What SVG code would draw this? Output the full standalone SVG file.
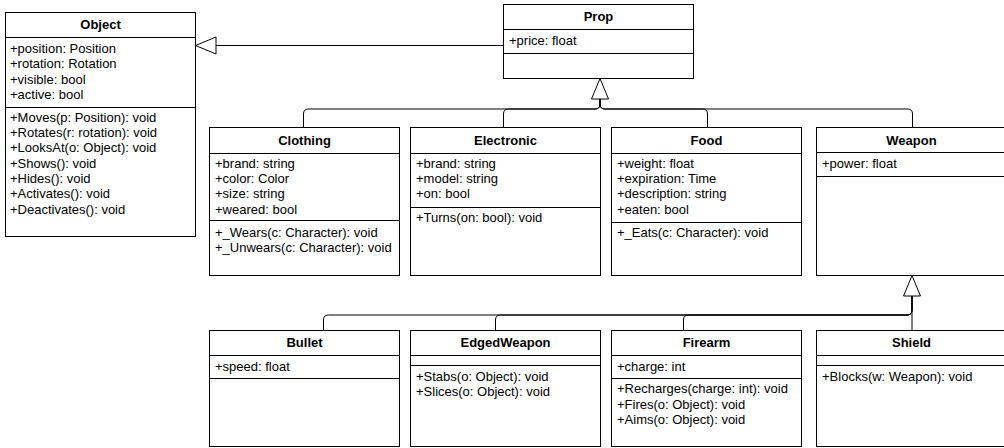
<svg xmlns="http://www.w3.org/2000/svg" width="1004" height="448" viewBox="0 0 1004 448">
<style>
.box{fill:#fff;stroke:#000;stroke-width:1}
.sep{stroke:#000;stroke-width:1}
.t{font-family:"Liberation Sans",Arial,sans-serif;font-size:13px;fill:#000}
.h{font-family:"Liberation Sans",Arial,sans-serif;font-size:13px;font-weight:bold;fill:#000;text-anchor:middle}
.edge{fill:none;stroke:#000;stroke-width:1}
.tri{fill:#fff;stroke:#000;stroke-width:1}
</style>
<rect width="1004" height="448" fill="#fff"/>
<g id="connectors">
  <path class="edge" d="M503.5,45.5 H216"/>
  <polygon class="tri" points="195.5,45.5 216,37 216,54"/>
  <path class="edge" d="M303.5,127 V114 Q303.5,109 308.5,109 H595 Q600,109 600,104 V99"/>
  <path class="edge" d="M503.5,127 V114 Q503.5,109 508.5,109 H595 Q600,109 600,104 V99"/>
  <path class="edge" d="M707.5,127 V114 Q707.5,109 702.5,109 H605 Q600,109 600,104 V99"/>
  <path class="edge" d="M912.5,127 V114 Q912.5,109 907.5,109 H605 Q600,109 600,104 V99"/>
  <polygon class="tri" points="600,78.5 591.5,99 608.5,99"/>
  <path class="edge" d="M323.5,330 V320 Q323.5,315 328.5,315 H907 Q912,315 912,310 V296"/>
  <path class="edge" d="M495.5,330 V320 Q495.5,315 500.5,315 H907 Q912,315 912,310 V296"/>
  <path class="edge" d="M683.5,330 V320 Q683.5,315 688.5,315 H907 Q912,315 912,310 V296"/>
  <path class="edge" d="M912,330 V296"/>
  <polygon class="tri" points="912,275.5 903.5,296 920.5,296"/>
</g>
<g id="Object">
  <rect class="box" x="5.5" y="12.5" width="190" height="224"/>
  <line class="sep" x1="5.5" y1="37.5" x2="195.5" y2="37.5"/>
  <line class="sep" x1="5.5" y1="107.5" x2="195.5" y2="107.5"/>
  <text class="h" x="100.5" y="29">Object</text>
  <text class="t" x="10" y="53">+position: Position</text>
  <text class="t" x="10" y="68">+rotation: Rotation</text>
  <text class="t" x="10" y="84">+visible: bool</text>
  <text class="t" x="10" y="99">+active: bool</text>
  <text class="t" x="10" y="122">+Moves(p: Position): void</text>
  <text class="t" x="10" y="137">+Rotates(r: rotation): void</text>
  <text class="t" x="10" y="152">+LooksAt(o: Object): void</text>
  <text class="t" x="10" y="168">+Shows(): void</text>
  <text class="t" x="10" y="183">+Hides(): void</text>
  <text class="t" x="10" y="198">+Activates(): void</text>
  <text class="t" x="10" y="214">+Deactivates(): void</text>
</g>
<g id="Prop">
  <rect class="box" x="503.5" y="4.5" width="190" height="74"/>
  <line class="sep" x1="503.5" y1="29.5" x2="693.5" y2="29.5"/>
  <line class="sep" x1="503.5" y1="53.5" x2="693.5" y2="53.5"/>
  <text class="h" x="598.5" y="21">Prop</text>
  <text class="t" x="509" y="45">+price: float</text>
</g>
<g id="Clothing">
  <rect class="box" x="209.5" y="127.5" width="190" height="148"/>
  <line class="sep" x1="209.5" y1="153.5" x2="399.5" y2="153.5"/>
  <line class="sep" x1="209.5" y1="220.5" x2="399.5" y2="220.5"/>
  <text class="h" x="304.5" y="144.5">Clothing</text>
  <text class="t" x="215" y="167.5">+brand: string</text>
  <text class="t" x="215" y="183">+color: Color</text>
  <text class="t" x="215" y="198">+size: string</text>
  <text class="t" x="215" y="213.5">+weared: bool</text>
  <text class="t" x="215" y="237">+_Wears(c: Character): void</text>
  <text class="t" x="215" y="252">+_Unwears(c: Character): void</text>
</g>
<g id="Electronic">
  <rect class="box" x="410.5" y="127.5" width="190" height="148"/>
  <line class="sep" x1="410.5" y1="153.5" x2="600.5" y2="153.5"/>
  <line class="sep" x1="410.5" y1="207.5" x2="600.5" y2="207.5"/>
  <text class="h" x="505.5" y="144.5">Electronic</text>
  <text class="t" x="416" y="167.5">+brand: string</text>
  <text class="t" x="416" y="183">+model: string</text>
  <text class="t" x="416" y="198">+on: bool</text>
  <text class="t" x="416" y="221.5">+Turns(on: bool): void</text>
</g>
<g id="Food">
  <rect class="box" x="611.5" y="127.5" width="190" height="148"/>
  <line class="sep" x1="611.5" y1="153.5" x2="801.5" y2="153.5"/>
  <line class="sep" x1="611.5" y1="222.5" x2="801.5" y2="222.5"/>
  <text class="h" x="706.5" y="144.5">Food</text>
  <text class="t" x="617" y="167.5">+weight: float</text>
  <text class="t" x="617" y="183">+expiration: Time</text>
  <text class="t" x="617" y="198">+description: string</text>
  <text class="t" x="617" y="213.5">+eaten: bool</text>
  <text class="t" x="617" y="237">+_Eats(c: Character): void</text>
</g>
<g id="Weapon">
  <rect class="box" x="816.5" y="127.5" width="190" height="148"/>
  <line class="sep" x1="816.5" y1="152.5" x2="1006.5" y2="152.5"/>
  <line class="sep" x1="816.5" y1="176.5" x2="1006.5" y2="176.5"/>
  <text class="h" x="911.5" y="144.5">Weapon</text>
  <text class="t" x="822" y="167.5">+power: float</text>
</g>
<g id="Bullet">
  <rect class="box" x="209.5" y="330.5" width="190" height="116"/>
  <line class="sep" x1="209.5" y1="355.5" x2="399.5" y2="355.5"/>
  <line class="sep" x1="209.5" y1="378.5" x2="399.5" y2="378.5"/>
  <text class="h" x="304.5" y="346.5">Bullet</text>
  <text class="t" x="215" y="370.5">+speed: float</text>
</g>
<g id="EdgedWeapon">
  <rect class="box" x="410.5" y="330.5" width="190" height="116"/>
  <line class="sep" x1="410.5" y1="355.5" x2="600.5" y2="355.5"/>
  <line class="sep" x1="410.5" y1="365.5" x2="600.5" y2="365.5"/>
  <text class="h" x="505.5" y="346.5">EdgedWeapon</text>
  <text class="t" x="416" y="380.5">+Stabs(o: Object): void</text>
  <text class="t" x="416" y="395.5">+Slices(o: Object): void</text>
</g>
<g id="Firearm">
  <rect class="box" x="611.5" y="330.5" width="190" height="116"/>
  <line class="sep" x1="611.5" y1="355.5" x2="801.5" y2="355.5"/>
  <line class="sep" x1="611.5" y1="378.5" x2="801.5" y2="378.5"/>
  <text class="h" x="706.5" y="346.5">Firearm</text>
  <text class="t" x="617" y="370.5">+charge: int</text>
  <text class="t" x="617" y="393">+Recharges(charge: int): void</text>
  <text class="t" x="617" y="408.5">+Fires(o: Object): void</text>
  <text class="t" x="617" y="423.5">+Aims(o: Object): void</text>
</g>
<g id="Shield">
  <rect class="box" x="816.5" y="330.5" width="190" height="116"/>
  <line class="sep" x1="816.5" y1="355.5" x2="1006.5" y2="355.5"/>
  <line class="sep" x1="816.5" y1="365.5" x2="1006.5" y2="365.5"/>
  <text class="h" x="911.5" y="346.5">Shield</text>
  <text class="t" x="822" y="380.5">+Blocks(w: Weapon): void</text>
</g>
</svg>
